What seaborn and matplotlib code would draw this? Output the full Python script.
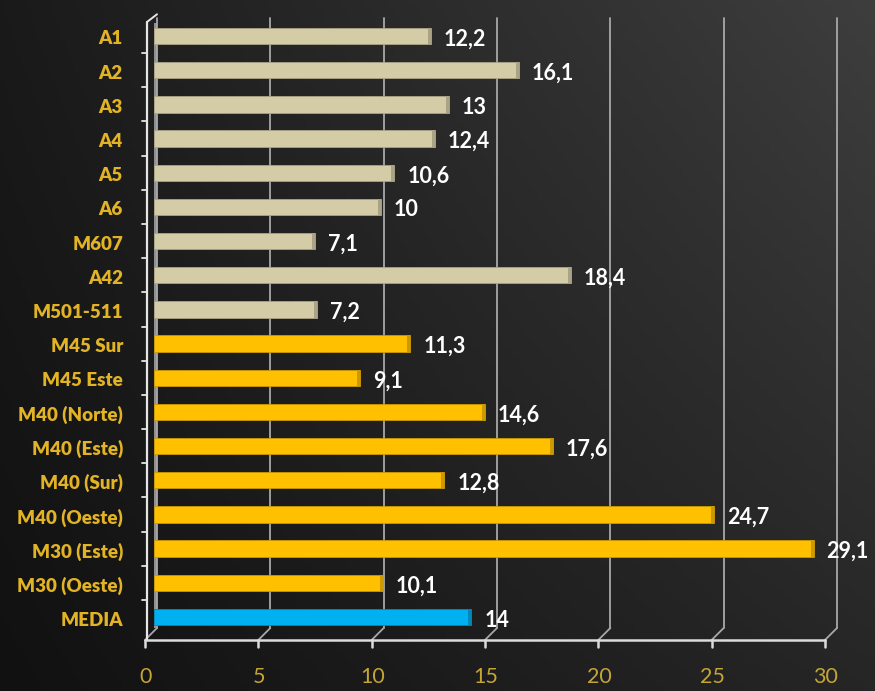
import numpy as np
import pandas as pd
import matplotlib
matplotlib.use("Agg")
import matplotlib.pyplot as plt
import matplotlib.transforms as mtransforms
from matplotlib.patches import Rectangle
import seaborn as sns

# Data
categories = ["A1", "A2", "A3", "A4", "A5", "A6", "M607", "A42", "M501-511",
              "M45 Sur", "M45 Este", "M40 (Norte)", "M40 (Este)", "M40 (Sur)",
              "M40 (Oeste)", "M30 (Este)", "M30 (Oeste)", "MEDIA"]
values = [12.2, 16.1, 13, 12.4, 10.6, 10, 7.1, 18.4, 7.2,
          11.3, 9.1, 14.6, 17.6, 12.8, 24.7, 29.1, 10.1, 14]
groups = ["A"] * 9 + ["M"] * 8 + ["MEDIA"]
x_ticks = [0, 5, 10, 15, 20, 25, 30]

group_colors = {"A": "#d3cca7", "M": "#ffc000", "MEDIA": "#00b0f0"}
edge_colors = {"A": "#aaa385", "M": "#cc9900", "MEDIA": "#0088bb"}

df = pd.DataFrame({"tramo": categories, "valor": values, "grupo": groups})

sns.set_theme(style="white")
plt.rcParams["font.family"] = ["Lato", "DejaVu Sans"]

W, H = 875, 691
fig = plt.figure(figsize=(W / 100, H / 100), dpi=100)

# Background gradient (bilinear, darker on the left and bottom)
bg = fig.add_axes([0, 0, 1, 1], zorder=-10)
gx, gy = np.meshgrid(np.linspace(0, 1, 200), np.linspace(0, 1, 200))
shade = (26 + 36 * gx - 9 * gy - 15 * gx * gy) / 255.0
bg.imshow(np.dstack([shade, shade, shade]), extent=[0, 1, 0, 1],
          aspect="auto", origin="upper")
bg.set_axis_off()

# Plot area: x=0 sits on the back wall, 22.67 px per unit
x0_px, px_per_unit = 154, 680 / 30
ax = fig.add_axes([x0_px / W, 51 / H, 680 / W, 622 / H])
ax.patch.set_alpha(0)

n = len(categories)
row_px = 34.18
y_top = -(36 - 18) / row_px
y_bot = (n - 1) + (640 - 617) / row_px


def shifted(dx, dy=0.0, base=None):
    base = ax.transData if base is None else base
    return base + mtransforms.ScaledTranslation(dx / 100, dy / 100, fig.dpi_scale_trans)


blend = mtransforms.blended_transform_factory(ax.transData, ax.transAxes)

# Back-wall strip and side wall line
strip = Rectangle((-7 / px_per_unit, 0.02), 10 / px_per_unit, 0.972,
                  transform=blend, facecolor="#8f8f8f", edgecolor="none",
                  zorder=0.5)
ax.add_patch(strip)
ax.plot([0, 0], [0, 0.993], transform=shifted(-7, 0, blend),
        color="#e6e6e6", lw=1.6, zorder=3, clip_on=False)
ax.plot([-7 / px_per_unit, 3 / px_per_unit], [0.9936, 1.006], transform=blend,
        color="#e6e6e6", lw=1.4, clip_on=False, zorder=3)

# Vertical gridlines on the back wall, joined to the front axis by a short diagonal
for v in x_ticks:
    ax.plot([v, v], [12 / 622, 1.0], transform=shifted(3, 0, blend),
            color="#a8a8a8", lw=1.3, zorder=1, clip_on=False)
    ax.plot([v - 9 / px_per_unit, v + 3 / px_per_unit], [0, 12 / 622],
            transform=blend, color="#a8a8a8", lw=1.3, zorder=1, clip_on=False)

# Front horizontal axis with tick marks
ax.plot([0, 30], [0, 0], transform=shifted(-9, 0, blend), color="#dcdcdc",
        lw=1.8, clip_on=False, zorder=3)
for v in x_ticks:
    ax.plot([v, v], [0, -7 / 622], transform=shifted(-9, 0, blend),
            color="#dcdcdc", lw=1.8, clip_on=False, zorder=3)
    ax.text(v, -37 / 622, str(v), transform=shifted(-8, 0, blend),
            ha="center", va="center", color="#c4a535", fontsize=15.5)

# Small ticks on the side wall between rows
for i in range(n - 1):
    ax.plot([-12 / px_per_unit, -7 / px_per_unit], [i + 0.5, i + 0.5],
            color="#e6e6e6", lw=1.3, clip_on=False, zorder=3)

# Bars
sns.barplot(data=df, x="valor", y="tramo", hue="grupo", palette=group_colors,
            orient="h", width=0.48, saturation=1, dodge=False, legend=False,
            ax=ax, zorder=2)
for container, g in zip(ax.containers, ["A", "M", "MEDIA"]):
    for bar in container:
        bar.set_edgecolor(edge_colors[g])
        bar.set_linewidth(0.6)
        bar.set_zorder(2)
        if bar.get_width() > 0:
            # darker end cap giving the bars some depth
            cap = Rectangle((bar.get_width() - 3 / px_per_unit, bar.get_y()),
                            3 / px_per_unit, bar.get_height(),
                            facecolor=edge_colors[g], edgecolor="none",
                            zorder=2.1)
            ax.add_patch(cap)

# Value labels
for i, v in enumerate(values):
    ax.text(v, i, f"{v:g}".replace(".", ","), transform=shifted(13, -3),
            ha="left", va="center", color="white", fontsize=15.5,
            fontweight="bold", zorder=5)

# Category labels
for i, c in enumerate(categories):
    ax.text(0, i, c, transform=shifted(-31, -3), ha="right", va="center",
            color="#e3b326", fontsize=13.5, fontweight="heavy", zorder=5)

ax.set_xlim(0, 30)
ax.set_ylim(y_bot, y_top)
ax.set_xlabel("")
ax.set_ylabel("")
ax.set_xticks([])
ax.set_yticks([])
for s in ax.spines.values():
    s.set_visible(False)

fig.savefig("out.png", dpi=100)
